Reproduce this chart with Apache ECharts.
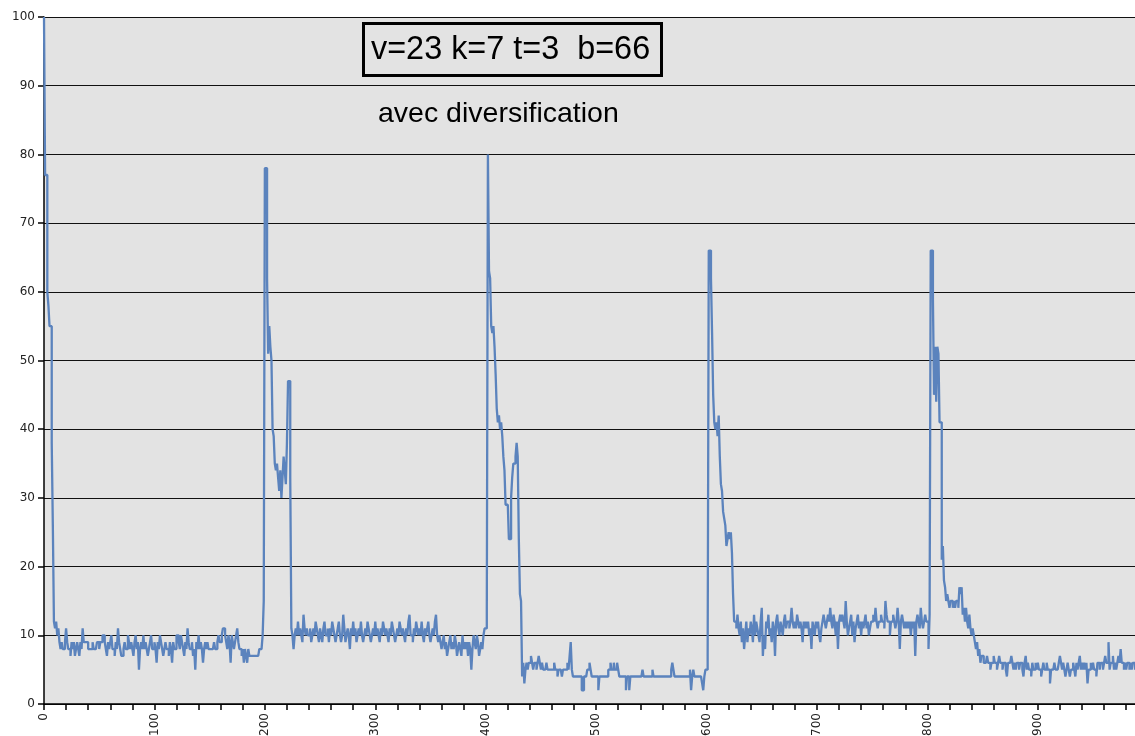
<!DOCTYPE html>
<html>
<head>
<meta charset="utf-8">
<script src="https://cdn.jsdelivr.net/npm/echarts@6/dist/echarts.min.js"></script>
<style>
  html, body { margin: 0; padding: 0; background: #ffffff; }
  #chart { width: 1135px; height: 736px; }
</style>
</head>
<body>
<div id="chart"></div>
<script>
// Value per iteration, split into runs of 200 steps (last run ends at step 988)
const run1 = [
  100, 77, 77, 60, 58, 55, 55, 38, 26, 12,
  11, 12, 10, 11, 9, 8, 9, 8, 8, 9,
  11, 9, 8, 8, 7, 9, 8, 9, 7, 8,
  9, 8, 7, 9, 8, 11, 9, 9, 9, 9,
  8, 8, 8, 8, 9, 8, 8, 8, 9, 9,
  8, 9, 9, 10, 10, 9, 8, 7, 9, 8,
  9, 10, 8, 8, 7, 9, 8, 11, 9, 8,
  7, 7, 8, 9, 8, 8, 10, 9, 8, 9,
  8, 7, 9, 10, 8, 9, 5, 8, 9, 8,
  10, 8, 9, 8, 7, 8, 9, 10, 8, 8,
  9, 8, 6, 9, 8, 10, 9, 8, 7, 8,
  9, 8, 8, 7, 9, 8, 6, 9, 8, 8,
  10, 10, 9, 8, 10, 9, 8, 7, 9, 8,
  11, 9, 8, 8, 9, 7, 8, 5, 9, 8,
  10, 8, 9, 8, 6, 8, 9, 8, 9, 8,
  8, 8, 8, 8, 9, 8, 8, 9, 10, 9,
  9, 10, 11, 11, 10, 9, 8, 10, 9, 6,
  10, 9, 8, 9, 10, 11, 9, 8, 8, 7,
  8, 6, 8, 7, 6, 8, 7, 7, 7, 7,
  7, 7, 7, 7, 7, 8, 8, 8, 10, 15
];
const run2 = [
  78, 78, 62, 51, 55, 52, 50, 40, 39, 35,
  34, 35, 33, 31, 34, 30, 33, 36, 34, 32,
  38, 47, 47, 33, 11, 10, 8, 10, 11, 10,
  12, 10, 11, 10, 9, 13, 11, 10, 11, 10,
  10, 11, 9, 10, 11, 10, 12, 11, 10, 9,
  11, 10, 9, 11, 12, 10, 10, 11, 9, 11,
  10, 12, 11, 10, 9, 10, 11, 12, 10, 9,
  10, 13, 11, 9, 10, 11, 10, 8, 11, 10,
  12, 10, 11, 9, 10, 11, 10, 12, 10, 9,
  10, 11, 10, 12, 11, 10, 9, 10, 11, 10,
  12, 10, 11, 10, 9, 11, 10, 12, 11, 10,
  11, 10, 9, 11, 10, 12, 11, 10, 9, 10,
  11, 10, 12, 11, 10, 11, 10, 9, 11, 10,
  12, 13, 10, 10, 9, 11, 10, 12, 11, 10,
  11, 10, 12, 10, 9, 11, 10, 11, 12, 10,
  9, 10, 11, 10, 12, 13, 10, 9, 10, 9,
  8, 9, 10, 8, 9, 7, 8, 9, 10, 8,
  9, 8, 10, 9, 7, 8, 9, 8, 7, 10,
  8, 9, 8, 9, 7, 9, 8, 5, 8, 10,
  9, 8, 10, 9, 7, 8, 9, 8, 10, 11
];
const run3 = [
  11, 14, 80, 63, 62, 55, 54, 55, 52, 48,
  43, 41, 42, 40, 41, 39, 36, 34, 29, 29,
  29, 24, 24, 30, 33, 35, 35, 36, 38, 36,
  24, 16, 15, 4, 6, 3, 5, 6, 5, 6,
  6, 7, 6, 5, 6, 6, 5, 6, 7, 6,
  5, 6, 5, 5, 5, 6, 5, 5, 5, 5,
  5, 5, 6, 5, 5, 4, 5, 5, 5, 4,
  5, 5, 5, 5, 6, 5, 7, 9, 5, 4,
  4, 4, 4, 4, 4, 4, 4, 2, 2, 4,
  4, 4, 5, 5, 6, 5, 4, 4, 4, 4,
  4, 4, 2, 4, 4, 4, 4, 4, 4, 4,
  4, 5, 5, 6, 5, 5, 6, 5, 5, 6,
  5, 4, 4, 4, 4, 4, 4, 2, 4, 4,
  2, 4, 4, 4, 4, 4, 4, 4, 4, 4,
  4, 4, 5, 4, 4, 4, 4, 4, 4, 4,
  4, 5, 4, 4, 4, 4, 4, 4, 4, 4,
  4, 4, 4, 4, 4, 4, 4, 4, 5, 6,
  5, 4, 4, 4, 4, 4, 4, 4, 4, 4,
  4, 4, 4, 4, 4, 5, 2, 4, 5, 4,
  4, 4, 4, 4, 4, 4, 3, 2, 4, 5
];
const run4 = [
  5, 7, 66, 66, 62, 54, 45, 41, 40, 41,
  39, 42, 36, 32, 31, 28, 27, 26, 23, 24,
  25, 24, 25, 22, 16, 12, 12, 11, 13, 11,
  10, 12, 9, 11, 8, 10, 12, 9, 11, 10,
  12, 11, 9, 13, 10, 12, 11, 10, 9, 12,
  14, 7, 10, 8, 12, 11, 13, 10, 11, 9,
  12, 11, 7, 12, 13, 11, 10, 12, 11, 10,
  12, 13, 11, 12, 12, 11, 12, 14, 12, 11,
  12, 11, 13, 12, 11, 12, 11, 9, 12, 11,
  12, 11, 12, 10, 11, 8, 12, 11, 10, 12,
  11, 12, 10, 9, 11, 12, 13, 12, 11, 12,
  13, 12, 14, 12, 11, 13, 12, 10, 12, 8,
  12, 13, 12, 13, 12, 11, 15, 12, 10, 11,
  12, 13, 10, 12, 9, 11, 12, 13, 11, 12,
  10, 12, 11, 12, 13, 11, 12, 10, 11, 12,
  12, 13, 12, 14, 12, 11, 12, 12, 13, 12,
  12, 11, 15, 13, 12, 12, 10, 12, 12, 13,
  12, 11, 12, 14, 12, 8, 12, 13, 12, 11,
  12, 11, 12, 11, 12, 10, 12, 11, 12, 7,
  12, 13, 12, 11, 14, 12, 11, 12, 13, 12
];
const run5 = [
  12, 8, 13, 66, 66, 59, 45, 52, 44, 52,
  51, 41, 41, 21, 23, 18, 17, 15, 16, 15,
  14, 15, 15, 14, 15, 14, 15, 15, 14, 17,
  16, 17, 13, 14, 12, 14, 12, 11, 13, 11,
  10, 11, 10, 9, 8, 9, 7, 8, 6, 7,
  7, 6, 6, 6, 7, 6, 6, 5, 6, 6,
  7, 6, 6, 5, 6, 7, 6, 6, 5, 6,
  6, 5, 4, 6, 6, 6, 7, 6, 5, 6,
  5, 6, 6, 5, 6, 6, 5, 4, 6, 7,
  5, 6, 5, 5, 4, 6, 5, 5, 6, 5,
  6, 5, 5, 4, 5, 6, 5, 5, 6, 5,
  5, 3, 5, 5, 5, 6, 5, 5, 5, 6,
  7, 6, 5, 6, 5, 4, 5, 6, 5, 4,
  5, 5, 6, 5, 4, 6, 5, 6, 7, 5,
  6, 5, 6, 5, 6, 3, 5, 5, 6, 5,
  6, 5, 5, 4, 6, 6, 5, 6, 6, 5,
  6, 7, 6, 6, 9, 5, 6, 6, 7, 5,
  6, 5, 6, 7, 6, 8, 6, 6, 5, 6,
  5, 6, 6, 5, 6, 5, 6, 6, 5
];

const values = run1.concat(run2, run3, run4, run5);
const steps = values.map((_, i) => String(i));
const yTicks = [0, 10, 20, 30, 40, 50, 60, 70, 80, 90, 100];

const headline = 'v=23 k=7 t=3  b=66';
const subline = 'avec diversification';

const chart = echarts.init(document.getElementById('chart'), null, { renderer: 'canvas' });

chart.setOption({
  animation: false,
  backgroundColor: '#ffffff',
  title: [
    {
      text: headline,
      left: 363,
      top: 23,
      padding: [11, 12, 10, 8],
      borderWidth: 3,
      borderColor: '#000000',
      backgroundColor: '#e3e3e3',
      textStyle: {
        fontFamily: 'Liberation Sans, Arial, sans-serif',
        fontSize: 32.4,
        fontWeight: 'normal',
        color: '#000000'
      }
    },
    {
      text: subline,
      left: 378,
      top: 100,
      padding: 0,
      textStyle: {
        fontFamily: 'Liberation Sans, Arial, sans-serif',
        fontSize: 28.5,
        fontWeight: 'normal',
        color: '#000000'
      }
    }
  ],
  grid: {
    left: 44,
    right: 0,
    top: 17,
    bottom: 32,
    outerBoundsMode: 'none',
    containLabel: false,
    show: true,
    backgroundColor: '#e3e3e3',
    borderWidth: 0
  },
  xAxis: {
    type: 'category',
    data: steps,
    boundaryGap: false,
    axisLine: { show: true, lineStyle: { color: '#000000', width: 1.5 } },
    axisTick: {
      show: true,
      length: 6,
      interval: (i) => i % 20 === 0,
      lineStyle: { color: '#000000', width: 1.5 }
    },
    axisLabel: {
      interval: (i) => i % 100 === 0,
      rotate: 90,
      margin: 9,
      fontFamily: 'DejaVu Sans, sans-serif',
      fontSize: 12,
      color: '#222222'
    },
    splitLine: { show: false }
  },
  yAxis: {
    type: 'value',
    min: yTicks[0],
    max: yTicks[yTicks.length - 1],
    interval: 10,
    axisLine: { show: true, lineStyle: { color: '#000000', width: 1.5 } },
    axisTick: { show: true, length: 6, lineStyle: { color: '#000000', width: 1.5 } },
    axisLabel: {
      margin: 9,
      fontFamily: 'DejaVu Sans, sans-serif',
      fontSize: 12,
      color: '#222222'
    },
    splitLine: { show: true, lineStyle: { color: '#111111', width: 1.2 } }
  },
  series: [
    {
      type: 'line',
      data: values,
      step: 'end',
      symbol: 'none',
      lineStyle: { color: '#5b83bd', width: 2.3 },
      itemStyle: { color: '#5b83bd' }
    }
  ]
});
</script>
</body>
</html>
